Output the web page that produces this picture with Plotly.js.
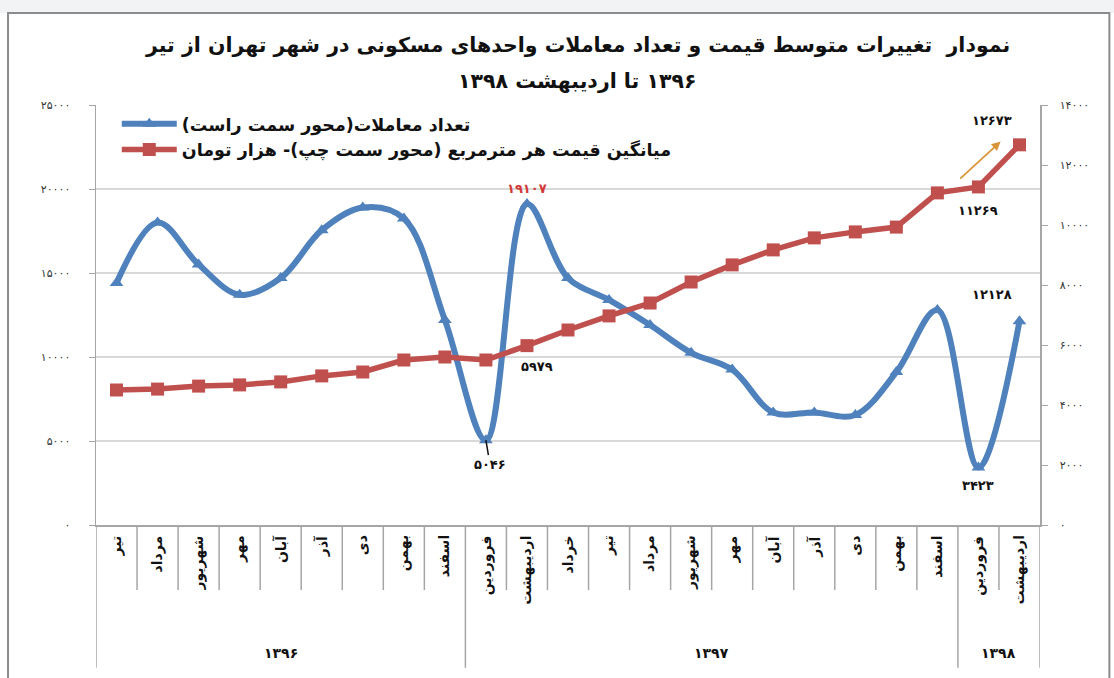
<!DOCTYPE html>
<html>
<head>
<meta charset="utf-8">
<script src="https://cdn.plot.ly/plotly-3.0.1.min.js"></script>
<style>
html,body{margin:0;padding:0;background:#fff;}
#chart{width:1114px;height:678px;}
</style>
</head>
<body>
<div id="chart"></div>
<script>
// ---- data ----
const months = ["تیر","مرداد","شهریور","مهر","آبان","آذر","دی","بهمن","اسفند",
  "فروردین","اردیبهشت","خرداد","تیر","مرداد","شهریور","مهر","آبان","آذر","دی","بهمن","اسفند",
  "فروردین","اردیبهشت"];
const years = ["۱۳۹۶","۱۳۹۶","۱۳۹۶","۱۳۹۶","۱۳۹۶","۱۳۹۶","۱۳۹۶","۱۳۹۶","۱۳۹۶",
  "۱۳۹۷","۱۳۹۷","۱۳۹۷","۱۳۹۷","۱۳۹۷","۱۳۹۷","۱۳۹۷","۱۳۹۷","۱۳۹۷","۱۳۹۷","۱۳۹۷","۱۳۹۷",
  "۱۳۹۸","۱۳۹۸"];
const transactions = [14400,18000,15500,13700,14700,17550,18900,18250,12200,
  5046,19107,14700,13400,11900,10250,9250,6700,6700,6550,9100,12800,
  3423,12128];
const avgPrice = [4500,4530,4630,4670,4770,4970,5100,5500,5600,
  5500,5979,6500,6970,7400,8100,8670,9170,9570,9770,9930,11070,
  11269,12673];
const leftTicks = [0,5000,10000,15000,20000,25000];
const leftTickText = ["۰","۵۰۰۰","۱۰۰۰۰","۱۵۰۰۰","۲۰۰۰۰","۲۵۰۰۰"];
const rightTicks = [0,2000,4000,6000,8000,10000,12000,14000];
const rightTickText = ["۰","۲۰۰۰","۴۰۰۰","۶۰۰۰","۸۰۰۰","۱۰۰۰۰","۱۲۰۰۰","۱۴۰۰۰"];
const seriesNames = ["تعداد معاملات(محور سمت راست)","میانگین قیمت هر مترمربع (محور سمت چپ)- هزار تومان"];
const titleLines = ["نمودار  تغییرات متوسط قیمت و تعداد معاملات واحدهای مسکونی در شهر تهران از تیر","۱۳۹۶ تا اردیبهشت ۱۳۹۸"];

// ---- helpers ----
const RLM = "\u200F";
const rtl = s => RLM + s + RLM;
const fa = n => String(n).replace(/\d/g, d => "۰۱۲۳۴۵۶۷۸۹"[d]);
const xs = months.map((_, i) => i);
const FONT = "DejaVu Sans, sans-serif";
const BLUE = "#4f81bd", RED = "#c0504d";

const traces = [
  {x: xs, y: transactions, yaxis: "y", name: rtl(seriesNames[0]), type: "scatter", mode: "lines+markers",
   line: {color: BLUE, width: 6, shape: "spline", smoothing: 1.0},
   marker: {symbol: "triangle-up", size: 12, color: BLUE}},
  {x: xs, y: avgPrice, yaxis: "y2", name: rtl(seriesNames[1]), type: "scatter", mode: "lines+markers",
   line: {color: RED, width: 5.5},
   marker: {symbol: "square", size: 13, color: RED}}
];

// ---- annotations ----
const ann = [];
months.forEach((m, i) => {
  ann.push({x: i, xref: "x", y: -0.02, yref: "paper", text: "<b>" + rtl(m) + "</b>", showarrow: false,
    textangle: -90, xanchor: "center", yanchor: "top",
    font: {family: FONT, size: 14, color: "#111"}});
});
// year groups
const groups = [];
years.forEach((y, i) => {
  if (!groups.length || groups[groups.length-1].name !== y) groups.push({name: y, start: i, end: i});
  else groups[groups.length-1].end = i;
});
groups.forEach(g => {
  ann.push({x: (g.start + g.end) / 2, xref: "x", y: -0.305, yref: "paper", text: "<b>" + g.name + "</b>", showarrow: false,
    xanchor: "center", yanchor: "middle", font: {family: FONT, size: 14, color: "#111"}});
});
const lblFont = {family: FONT, size: 13, color: "#111", weight: "bold"};
const maxIdx = transactions.indexOf(Math.max(...transactions));
const minIdx = transactions.indexOf(Math.min(...transactions.slice(0, 12)));
const last = xs.length - 1;
ann.push({x: maxIdx, y: transactions[maxIdx], xref: "x", yref: "y", text: fa(transactions[maxIdx]), showarrow: false, yshift: 16,
  font: {family: FONT, size: 13, color: "#d23a3a", weight: "bold"}});
ann.push({x: minIdx, y: transactions[minIdx], xref: "x", yref: "y", text: fa(transactions[minIdx]), showarrow: true,
  arrowhead: 0, arrowwidth: 1.5, arrowcolor: "#111", ax: 4, ay: 24, font: lblFont});
ann.push({x: 10, y: avgPrice[10], xref: "x", yref: "y2", text: fa(avgPrice[10]), showarrow: false, xshift: 10, yshift: -21, font: lblFont});
ann.push({x: last, y: avgPrice[last], xref: "x", yref: "y2", text: fa(avgPrice[last]), showarrow: false, xshift: -27, yshift: 24, font: lblFont});
ann.push({x: last-1, y: avgPrice[last-1], xref: "x", yref: "y2", text: fa(avgPrice[last-1]), showarrow: false, yshift: -24, font: lblFont});
ann.push({x: last, y: transactions[last], xref: "x", yref: "y", text: fa(transactions[last]), showarrow: false, xshift: -27, yshift: 27, font: lblFont});
ann.push({x: last-1, y: transactions[last-1], xref: "x", yref: "y", text: fa(transactions[last-1]), showarrow: false, yshift: -18, font: lblFont});
// orange trend arrow
ann.push({x: 21.54, y: 12780, xref: "x", yref: "y2", axref: "x", ayref: "y2", ax: 20.52, ay: 11500,
  text: "", showarrow: true, arrowhead: 2, arrowsize: 1, arrowwidth: 1.8, arrowcolor: "#d9953a"});
// title
ann.push({x: 0.51, xref: "paper", y: 1.143, yref: "paper", text: "<b>" + rtl(titleLines[0]) + "</b>", showarrow: false,
  xanchor: "center", yanchor: "middle", font: {family: FONT, size: 20.5, color: "#111"}});
ann.push({x: 0.51, xref: "paper", y: 1.058, yref: "paper", text: "<b>" + rtl(titleLines[1]) + "</b>", showarrow: false,
  xanchor: "center", yanchor: "middle", font: {family: FONT, size: 20.5, color: "#111"}});

// ---- shapes: category separators + frame ----
const shapes = [];
for (let i = 0; i <= months.length; i++) {
  const boundary = i === 0 || i === months.length || years[i] !== years[i-1];
  shapes.push({type: "line", xref: "x", yref: "paper", x0: i - 0.5, x1: i - 0.5, y0: 0, y1: boundary ? -0.34 : -0.155,
    line: {color: "#a6a6a6", width: 1.5}});
}
shapes.push({type: "rect", xref: "paper", yref: "paper", x0: -0.2, x1: 1.2, y0: 1.219, y1: 1.3,
  fillcolor: "#f2f3f5", line: {width: 0}, layer: "below"});
shapes.push({type: "rect", xref: "paper", yref: "paper", x0: -0.0932, x1: 1.0735, y0: -0.5, y1: 1.219,
  line: {color: "#8c8c8c", width: 2}, fillcolor: "rgba(0,0,0,0)"});

const layout = {
  width: 1114, height: 678,
  margin: {l: 96, r: 74, t: 105, b: 153, pad: 0},
  paper_bgcolor: "#ffffff", plot_bgcolor: "#ffffff",
  font: {family: FONT, color: "#222"},
  showlegend: true,
  legend: {x: 0.022, y: 0.998, xanchor: "left", yanchor: "top", bgcolor: "rgba(0,0,0,0)",
    font: {family: FONT, size: 17.5, color: "#111", weight: "bold"}, itemwidth: 55, tracegroupgap: 4},
  xaxis: {range: [-0.5, 22.5], showticklabels: false, showgrid: false, zeroline: false,
    showline: true, linecolor: "#a6a6a6", linewidth: 1.5, ticks: "", fixedrange: true},
  yaxis: {range: [0, 25000], tickvals: leftTicks, ticktext: leftTickText, showgrid: true, gridcolor: "#d9d9d9",
    gridwidth: 1.5, zeroline: false, showline: true, linecolor: "#a6a6a6", linewidth: 1.5, ticks: "outside",
    ticklen: 6, tickcolor: "#a6a6a6", ticklabelstandoff: 16, tickfont: {family: FONT, size: 11, color: "#333"}, fixedrange: true},
  yaxis2: {range: [0, 14000], overlaying: "y", side: "right", tickvals: rightTicks, ticktext: rightTickText,
    showgrid: false, zeroline: false, showline: true, linecolor: "#a6a6a6", linewidth: 1.5, ticks: "outside",
    ticklen: 6, tickcolor: "#a6a6a6", ticklabelstandoff: 10, tickfont: {family: FONT, size: 11, color: "#333"}, fixedrange: true},
  annotations: ann,
  shapes: shapes
};

Plotly.newPlot("chart", traces, layout, {displayModeBar: false, staticPlot: true});
</script>
</body>
</html>
